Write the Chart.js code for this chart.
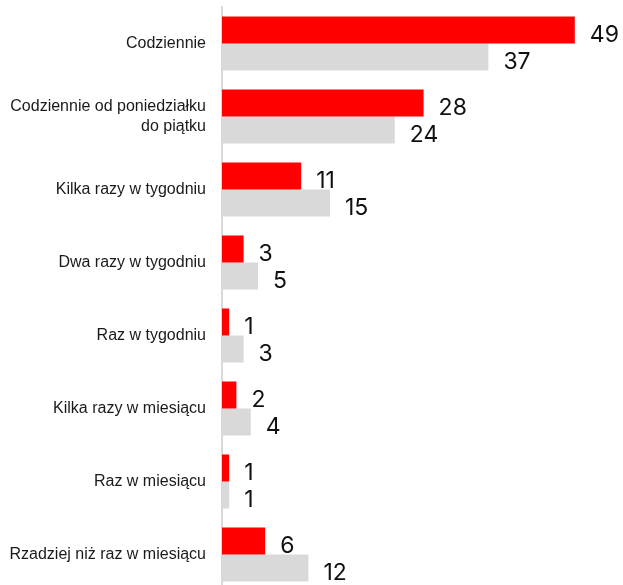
<!DOCTYPE html>
<html lang="pl">
<head>
<meta charset="utf-8">
<title>Częstotliwość</title>
<script src="https://cdn.jsdelivr.net/npm/chart.js@4.4.1/dist/chart.umd.min.js"></script>
<style>
  html, body { margin: 0; padding: 0; background: #fff; overflow: hidden; }
  .chart-box { position: relative; width: 623px; height: 591px; }
</style>
</head>
<body>
<div class="chart-box"><canvas id="freqChart"></canvas></div>
<script>
const categories = [
    'Codziennie',
    ['Codziennie od poniedziałku', 'do piątku'],
    'Kilka razy w tygodniu',
    'Dwa razy w tygodniu',
    'Raz w tygodniu',
    'Kilka razy w miesiącu',
    'Raz w miesiącu',
    'Rzadziej niż raz w miesiącu'
];
const redValues = [49, 28, 11, 3, 1, 2, 1, 6];
const grayValues = [37, 24, 15, 5, 3, 4, 1, 12];
const axisMax = 55;

// numbers printed next to the end of each bar
const valueLabels = {
    id: 'valueLabels',
    afterDatasetsDraw(chart) {
        const ctx = chart.ctx;
        ctx.save();
        ctx.font = '23px Inter';
        ctx.fillStyle = '#111';
        ctx.textAlign = 'left';
        ctx.textBaseline = 'middle';
        chart.data.datasets.forEach((ds, i) => {
            chart.getDatasetMeta(i).data.forEach((bar, j) => {
                ctx.fillText(ds.data[j], bar.x + 15, bar.y + 5);
            });
        });
        ctx.restore();
    }
};

const ctx = document.getElementById('freqChart');

new Chart(ctx, {
    type: 'bar',
    data: {
        labels: categories,
        datasets: [{
            data: redValues,
            backgroundColor: '#ff0000',
            categoryPercentage: 0.74,
            barPercentage: 1
        }, {
            data: grayValues,
            backgroundColor: '#d9d9d9',
            categoryPercentage: 0.74,
            barPercentage: 1
        }]
    },
    options: {
        indexAxis: 'y',
        responsive: true,
        maintainAspectRatio: false,
        animation: false,
        layout: { padding: { top: 7, right: 5, bottom: 0, left: 0 } },
        plugins: {
            legend: { display: false },
            tooltip: { enabled: false }
        },
        scales: {
            x: {
                display: false,
                min: 0,
                max: axisMax
            },
            y: {
                afterFit(scale) {
                    // fixed axis width, no extra room above/below for labels
                    scale.width = 222;
                    scale.paddingTop = 0;
                    scale.paddingBottom = 0;
                },
                grid: { display: false, drawTicks: false },
                border: { display: true, color: '#d9d9d9', width: 2 },
                ticks: {
                    padding: 16,
                    color: '#1a1a1a',
                    font: { family: '"Liberation Sans", Arial, sans-serif', size: 16, lineHeight: 1.2 }
                }
            }
        }
    },
    plugins: [valueLabels]
});
</script>
</body>
</html>
